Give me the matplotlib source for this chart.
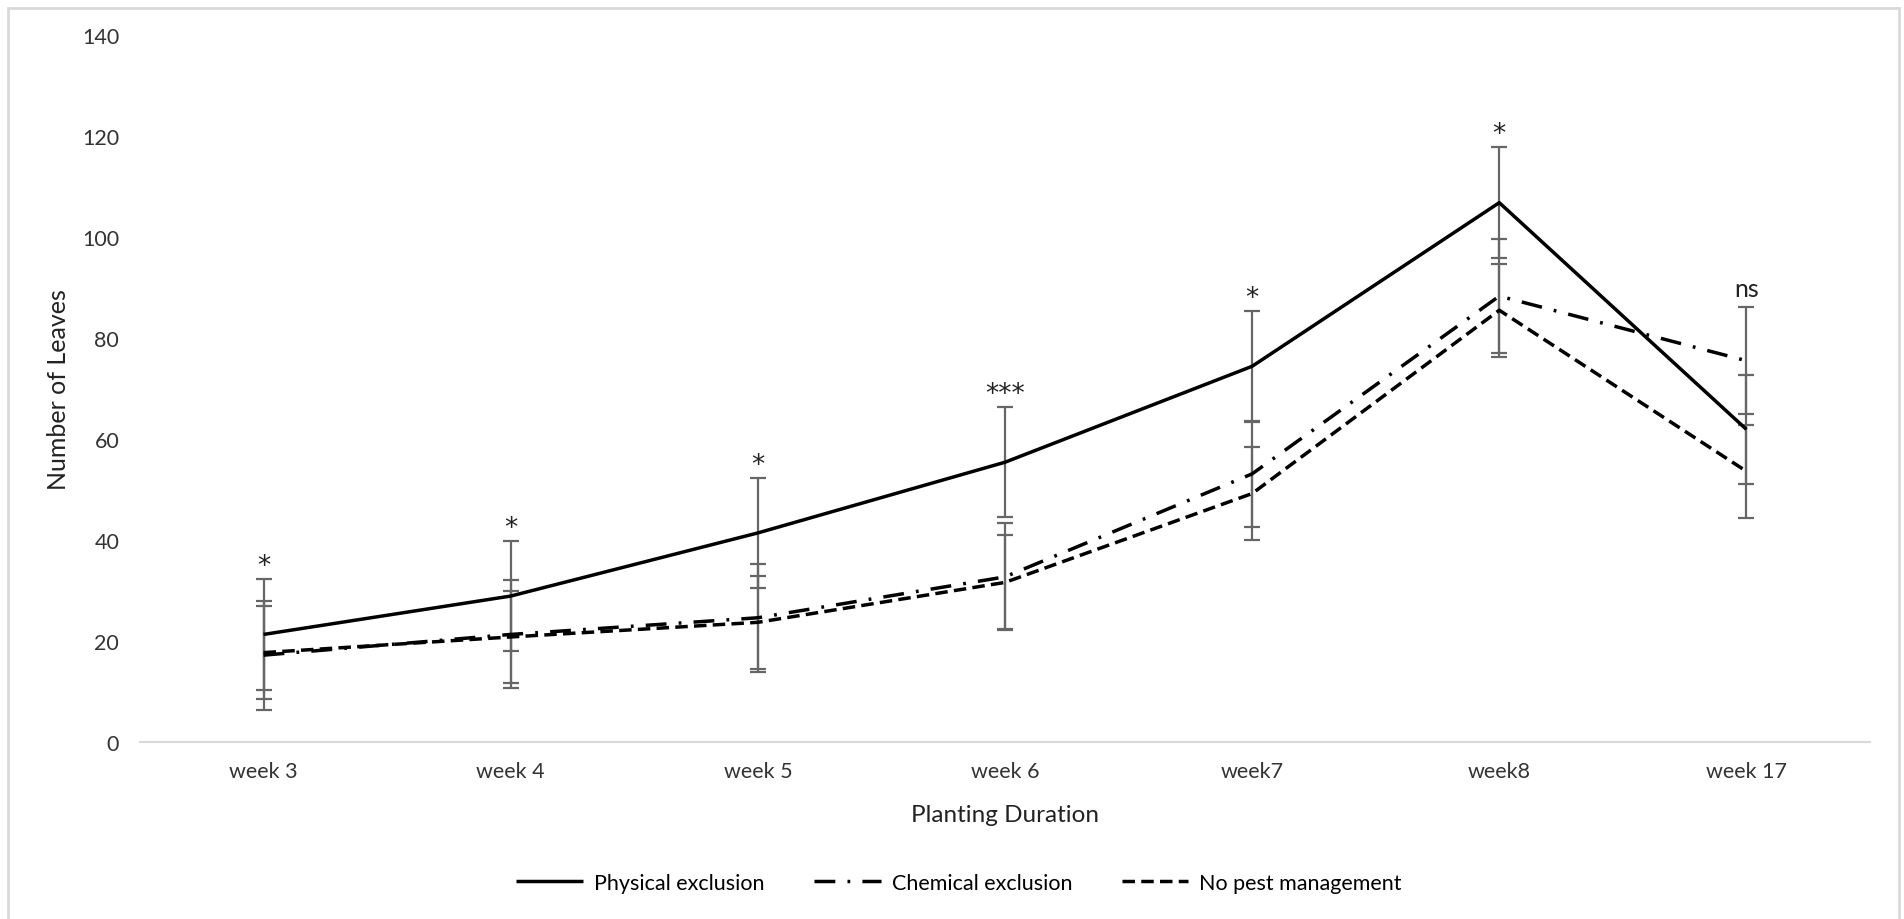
import matplotlib
matplotlib.use("Agg")
import matplotlib.pyplot as plt
from matplotlib.patches import Rectangle
import numpy as np

plt.rcParams['font.family'] = ['Lato', 'DejaVu Sans']

weeks = ["week 3", "week 4", "week 5", "week 6", "week7", "week8", "week 17"]
physical = [21.3, 28.9, 41.4, 55.4, 74.4, 106.8, 61.9]
physical_err = [11.0, 10.9, 10.9, 10.9, 11.0, 11.0, 10.8]
chemical = [17.2, 21.3, 24.6, 32.7, 53.1, 88.3, 75.5]
chemical_err = [10.8, 10.7, 10.7, 10.6, 10.5, 11.3, 10.6]
nopest = [17.7, 20.8, 23.7, 31.6, 49.2, 85.5, 53.6]
nopest_err = [9.2, 9.2, 9.2, 9.3, 9.2, 9.2, 9.2]
signif = ["*", "*", "*", "***", "*", "*", "ns"]

W, H = 1904, 920
AX_L, AX_R, AX_T, AX_B = 140, 1870, 36, 743
fig = plt.figure(figsize=(W / 100, H / 100), dpi=100)
ax = fig.add_axes([AX_L / W, 1 - AX_B / H, (AX_R - AX_L) / W, (AX_B - AX_T) / H])

x = np.arange(len(weeks))
series = [
    ("Physical exclusion", physical, physical_err, '-'),
    ("Chemical exclusion", chemical, chemical_err, (0, (6, 3.5, 0.8, 3.5))),
    ("No pest management", nopest, nopest_err, (0, (3.6, 1.8))),
]
err_col = '#666666'
for name, vals, errs, ls in series:
    ax.plot(x, vals, color='black', lw=2.5, linestyle=ls, label=name, zorder=3,
            solid_capstyle='butt', dash_capstyle='butt')
    ax.errorbar(x, vals, yerr=errs, fmt='none', ecolor=err_col, elinewidth=1.6,
                capsize=6, capthick=1.6, zorder=2)

for i, s in enumerate(signif):
    top = max(physical[i] + physical_err[i], chemical[i] + chemical_err[i],
              nopest[i] + nopest_err[i])
    if s == "ns":
        ax.annotate(s, (x[i], top), xytext=(0, 5), textcoords='offset points',
                    ha='center', va='bottom', fontsize=18, color='#222222')
    else:
        ax.annotate(s, (x[i], top), xytext=(0, 0), textcoords='offset points',
                    ha='center', va='bottom', fontsize=19, color='#222222',
                    family='DejaVu Sans')

ax.set_xlim(-0.5, len(weeks) - 0.5)
ax.set_ylim(0, 140)
ax.set_yticks(np.arange(0, 141, 20))
ax.set_xticks(x)
ax.set_xticklabels(weeks)
ax.tick_params(axis='both', length=0, labelsize=15.5, colors='#333333')
ax.tick_params(axis='y', pad=15)
ax.tick_params(axis='x', pad=14)
for sp in ['top', 'right', 'left']:
    ax.spines[sp].set_visible(False)
ax.spines['bottom'].set_color('#d9d9d9')
ax.spines['bottom'].set_linewidth(1.5)

ax.set_xlabel("Planting Duration", fontsize=17.5, color='#222222', labelpad=16)
ax.set_ylabel("Number of Leaves", fontsize=18, color='#222222')
ax.yaxis.set_label_coords((70 - AX_L) / (AX_R - AX_L), 0.5)

fig.legend(loc='center', bbox_to_anchor=(959 / W, 1 - 884 / H), ncol=3,
           frameon=False, fontsize=15.5, handlelength=3.1, handletextpad=0.5,
           columnspacing=2.3)

fig.patches.append(Rectangle((8 / W, -0.05), (1899 - 8) / W, 1.05 - 9 / H,
                             transform=fig.transFigure, fill=False,
                             edgecolor='#d9d9d9', lw=2))

fig.savefig("out.png", dpi=100, facecolor='white')
